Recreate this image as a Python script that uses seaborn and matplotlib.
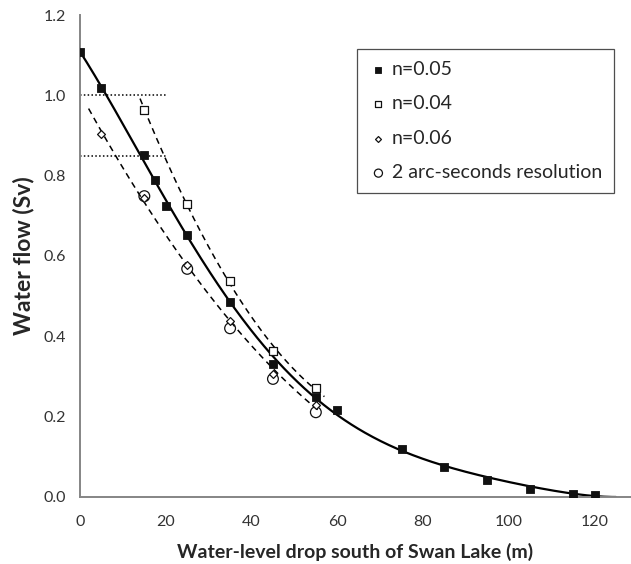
import numpy as np
import pandas as pd
import seaborn as sns
import matplotlib.pyplot as plt

# Values
x_n05 = [0, 5, 15, 17.5, 20, 25, 35, 45, 55, 60, 75, 85, 95, 105, 115, 120]
y_n05 = [1.107, 1.019, 0.851, 0.788, 0.724, 0.653, 0.486, 0.332, 0.250, 0.217,
         0.120, 0.075, 0.043, 0.021, 0.008, 0.004]
x_zero = 125  # where the n=0.05 curve meets the axis
x_n04 = [15, 25, 35, 45, 55]
y_n04 = [0.963, 0.729, 0.538, 0.364, 0.272]
x_n06 = [5, 15, 25, 35, 45, 55]
y_n06 = [0.903, 0.745, 0.577, 0.439, 0.306, 0.229]
x_arc = [15, 25, 35, 45, 55]
y_arc = [0.749, 0.568, 0.420, 0.294, 0.211]

sns.set_style("white")
plt.rcParams["font.family"] = ["Lato", "DejaVu Sans"]

fig = plt.figure(figsize=(6.31, 5.64), dpi=100)
ax = fig.add_axes([0.1268, 0.1188, 0.8732, 0.8546])

# Smooth trend for n=0.05: least squares in powers of (x_zero - x), touching zero at x_zero
powers = [2, 3, 4, 5]
u = 1 - np.array(x_n05) / x_zero
A = np.column_stack([u ** p for p in powers])
c, *_ = np.linalg.lstsq(A, np.array(y_n05), rcond=None)
xx = np.linspace(0, x_zero, 400)
uu = 1 - xx / x_zero
main = pd.DataFrame({"x": xx, "y": np.column_stack([uu ** p for p in powers]) @ c})
sns.lineplot(data=main, x="x", y="y", color="black", linewidth=1.6, ax=ax, sort=False)

# Dashed trendlines for n=0.04 and n=0.06
def trend(xs, ys, deg, x0, x1):
    k = np.polyfit(xs, ys, deg)
    xv = np.linspace(x0, x1, 300)
    return pd.DataFrame({"x": xv, "y": np.polyval(k, xv)})

t04 = trend(x_n04, y_n04, 2, 14, 57)
sns.lineplot(data=t04, x="x", y="y", color="black", linewidth=1.1, ax=ax, sort=False,
             linestyle=(0, (4, 3)))
t06 = trend(x_n06, y_n06, 2, 2, 56)
sns.lineplot(data=t06, x="x", y="y", color="black", linewidth=1.1, ax=ax, sort=False,
             linestyle=(0, (4, 3)))

# dotted reference lines
for yv in [1.0, 0.85]:
    ax.plot([0, 20], [yv, yv], color="black", linestyle=(0, (1, 1.5)), linewidth=1.1)

sns.scatterplot(x=x_n05, y=y_n05, marker="s", color="#111111", edgecolor="#111111",
                s=30, linewidth=0.6, ax=ax, label="n=0.05", zorder=5)
sns.scatterplot(x=x_n04, y=y_n04, marker="s", color="white", edgecolor="#111111",
                s=26, linewidth=0.9, ax=ax, label="n=0.04", zorder=5)
sns.scatterplot(x=x_n06, y=y_n06, marker="D", color="white", edgecolor="#111111",
                s=16, linewidth=0.9, ax=ax, label="n=0.06", zorder=6)
sns.scatterplot(x=x_arc, y=y_arc, marker="o", color="none", edgecolor="#111111",
                s=60, linewidth=0.9, ax=ax, label="2 arc-seconds resolution", zorder=5)

ax.set_xlim(0, 128.5)
ax.set_ylim(0, 1.2)
ax.set_xticks(np.arange(0, 121, 20))
ax.set_yticks(np.arange(0, 1.21, 0.2))
ax.yaxis.set_major_formatter(plt.FormatStrFormatter("%.1f"))

for side in ["top", "right"]:
    ax.spines[side].set_visible(False)
for side in ["left", "bottom"]:
    ax.spines[side].set_color("#858585")
    ax.spines[side].set_linewidth(1.4)
ax.tick_params(axis="both", direction="out", length=5, width=1, color="#858585",
               labelsize=11.5, labelcolor="#333333")
ax.tick_params(axis="x", pad=8)
ax.tick_params(axis="y", pad=5)

ax.set_xlabel("Water-level drop south of Swan Lake (m)", fontsize=14, fontweight="bold",
              labelpad=10)
ax.set_ylabel("Water flow (Sv)", fontsize=16.5, fontweight="bold", labelpad=7)

leg = ax.legend(loc="upper right", bbox_to_anchor=(0.973, 0.913), bbox_transform=fig.transFigure,
                borderaxespad=0, frameon=True, fancybox=False, edgecolor="#222222",
                fontsize=14, markerscale=0.75, handletextpad=0.2, labelspacing=0.9,
                borderpad=0.6, handlelength=1.0)
leg.get_frame().set_linewidth(0.9)

fig.savefig("out.png", dpi=100)
